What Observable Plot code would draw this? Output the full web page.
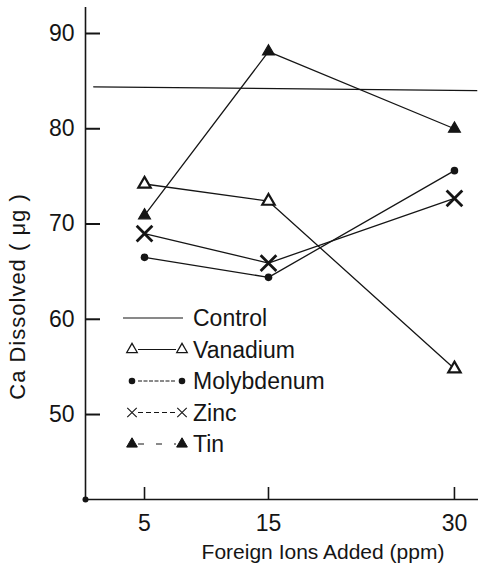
<!DOCTYPE html>
<html><head><meta charset="utf-8">
<script src="https://cdn.jsdelivr.net/npm/d3@7"></script>
<script src="https://cdn.jsdelivr.net/npm/@observablehq/plot@0.6"></script>
<style>
body{margin:0;background:#fff;}
#wrap{position:relative;width:478px;height:576px;overflow:hidden;background:#fff;}
#legend{position:absolute;left:0;top:0;pointer-events:none;}
</style></head><body><div id="wrap"></div>
<script>
// ---- data ----
const doses = [5, 15, 30];
const seriesNames = ["Vanadium", "Molybdenum", "Zinc", "Tin"];
const vanadium = [74.2, 72.4, 54.8];
const molybdenum = [66.5, 64.4, 75.6];
const zinc = [69.0, 65.9, 72.7];
const tin = [70.9, 88.1, 80.0];
const controlX = [0.9, 31.8];
const controlY = [84.4, 84.0];
const xTicks = [5, 15, 30];
const yTicks = [50, 60, 70, 80, 90];
const xDomain = [0.24, 31.94];
const yDomain = [41.08, 92.73];
const yLabel = "Ca Dissolved ( μg )";
const xLabel = "Foreign Ions Added (ppm)";
const legendLabels = ["Control", ...seriesNames];

const seriesValues = [vanadium, molybdenum, zinc, tin];
const rows = [];
seriesNames.forEach((name, i) => doses.forEach((d, j) => rows.push({series: name, x: d, y: seriesValues[i][j]})));
const control = controlX.map((x, i) => ({x, y: controlY[i]}));

const ink = "#151515";
const symbolStyle = {
  Vanadium:   {symbol: "triangle", fill: "white", stroke: ink, strokeWidth: 2.2, r: 4.6},
  Molybdenum: {symbol: "circle", fill: ink, stroke: "none", r: 3.8},
  Zinc:       {symbol: "times", fill: "none", stroke: ink, strokeWidth: 2.8, r: 7.2},
  Tin:        {symbol: "triangle", fill: ink, stroke: ink, strokeWidth: 1.2, r: 4.4}
};

const font = "'Liberation Sans', Arial, sans-serif";
const W = 478, H = 576, ML = 85, MR = 0, MT = 7, MB = 77;
const yTickLen = 15, xTickLen = 12;

const chart = Plot.plot({
  width: W, height: H,
  marginLeft: ML, marginRight: MR, marginTop: MT, marginBottom: MB,
  style: {fontFamily: font, fontSize: "23px", color: ink, background: "white"},
  x: {domain: xDomain, label: null},
  y: {domain: yDomain, label: null},
  marks: [
    Plot.ruleX([xDomain[0]], {stroke: ink, strokeWidth: 1.6}),
    Plot.ruleY([yDomain[0]], {stroke: ink, strokeWidth: 1.6}),
    // inward ticks
    Plot.tickY(yTicks, {y: d => d, stroke: ink, strokeWidth: 2, insetRight: (W - ML - MR) - yTickLen}),
    Plot.tickX(xTicks, {x: d => d, stroke: ink, strokeWidth: 1.6, insetTop: (H - MT - MB) - xTickLen}),
    Plot.axisY(yTicks, {tickSize: 0, tickPadding: 11, label: null, fontSize: 23}),
    Plot.axisX(xTicks, {tickSize: 0, tickPadding: 15, label: null, fontSize: 23}),
    Plot.line(control, {x: "x", y: "y", stroke: ink, strokeWidth: 1.3}),
    Plot.line(rows, {x: "x", y: "y", z: "series", stroke: ink, strokeWidth: 1.3}),
    ...seriesNames.map(name => Plot.dot(rows.filter(d => d.series === name), {x: "x", y: "y", ...symbolStyle[name]})),
    Plot.dot([{x: xDomain[0], y: yDomain[0]}], {x: "x", y: "y", r: 3, fill: ink}),
    Plot.text([yLabel], {frameAnchor: "left", rotate: -90, dx: -68, dy: 43, fontSize: 22, textAnchor: "middle", fill: ink}),
    Plot.text([xLabel], {frameAnchor: "bottom", dx: 41, dy: 59, fontSize: 21, textAnchor: "middle", fill: ink})
  ]
});
document.getElementById("wrap").appendChild(chart);
d3.select(chart).selectAll("text").filter(function() { return d3.select(this).text() === yLabel; })
  .style("letter-spacing", "1px");

// ---- legend overlay (inside plot area, as in the original figure) ----
const legendStyle = {
  Control:    {dash: null, sym: null},
  Vanadium:   {dash: null, sym: "triangle", fill: "white", stroke: ink, sw: 1.3, size: 48},
  Molybdenum: {dash: "4,1.5", sym: "circle", fill: ink, stroke: "none", sw: 0, size: 34},
  Zinc:       {dash: "5,3", sym: "times", fill: "none", stroke: ink, sw: 1.1, size: 60},
  Tin:        {dash: "6,12", sym: "triangle", fill: ink, stroke: ink, sw: 1, size: 50}
};
const symMap = {triangle: d3.symbolTriangle, circle: d3.symbolCircle, times: d3.symbolTimes};
const lg = d3.select("#wrap").append("svg").attr("id", "legend").attr("width", W).attr("height", H)
  .style("font-family", font);
legendLabels.forEach((name, i) => {
  const st = legendStyle[name];
  const g = lg.append("g").attr("transform", `translate(0,${318 + i * 31.5})`);
  if (!st.sym) {
    g.append("line").attr("x1", 123).attr("x2", 183).attr("stroke", ink).attr("stroke-width", 1.2);
  } else {
    g.append("line").attr("x1", 138).attr("x2", 176).attr("stroke", ink).attr("stroke-width", 1)
      .attr("stroke-dasharray", st.dash);
    [132, 182].forEach(cx => g.append("path").attr("transform", `translate(${cx},0)`)
      .attr("d", d3.symbol(symMap[st.sym], st.size)())
      .attr("fill", st.fill).attr("stroke", st.stroke).attr("stroke-width", st.sw));
  }
  g.append("text").attr("x", 193).attr("dy", "0.35em").attr("font-size", 23).attr("fill", ink).text(name);
});
</script></body></html>
